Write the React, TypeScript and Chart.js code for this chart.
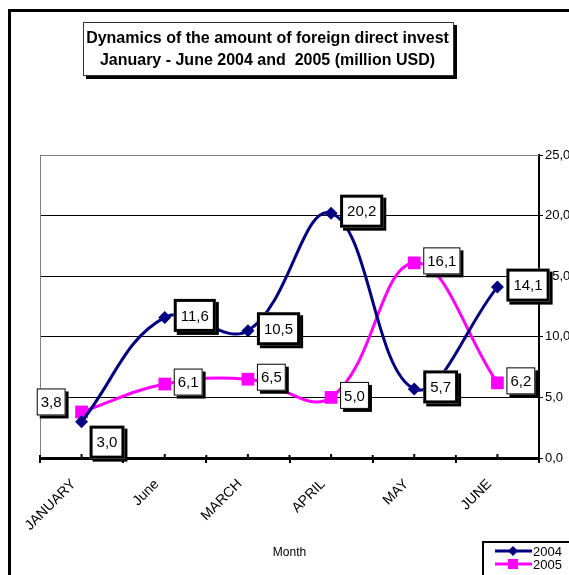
import { useEffect, useRef } from 'react';
import { Chart, registerables } from 'chart.js';

Chart.register(...registerables);

const categories = ['JANUARY', 'June', 'MARCH', 'APRIL', 'MAY', 'JUNE'];
const series2004 = [3.0, 11.6, 10.5, 20.2, 5.7, 14.1];
const series2005 = [3.8, 6.1, 6.5, 5.0, 16.1, 6.2];
const seriesNames = ['2004', '2005'];
const yMin = 0;
const yMax = 25;
const yStep = 5;
const titleLines = ['Dynamics of the amount of foreign direct invest', 'January - June 2004 and  2005 (million USD)'];
const xAxisTitle = 'Month';

const labelPlacement2004 = ['belowRight', 'right', 'right', 'right', 'right', 'right'];
const labelPlacement2005 = ['aboveLeft', 'right', 'right', 'right', 'right', 'right'];

const FONT = '"Liberation Sans", Arial, sans-serif';
const NAVY = '#000080';
const MAGENTA = '#FF00FF';

const fmt = (v: number) => v.toFixed(1).replace('.', ',');

function drawLabel(ctx: CanvasRenderingContext2D, text: string, px: number, py: number, place: string, thick: boolean) {
  ctx.save();
  ctx.font = `15px ${FONT}`;
  const tw = ctx.measureText(text).width;
  const padX = thick ? 7 : 4;
  const h = thick ? 33 : 27;
  const bw = thick ? 3 : 1;
  const w = tw + padX * 2;
  let left = px + 9;
  let top = py - 2 - h / 2;
  if (place === 'belowRight') {
    left = px + 8;
    top = py + 4;
  } else if (place === 'aboveLeft') {
    left = px - 16 - w;
    top = py - 10 - h / 2;
  }
  ctx.fillStyle = '#000';
  ctx.fillRect(left + 3, top + 3, w, h);
  ctx.fillStyle = '#fff';
  ctx.fillRect(left, top, w, h);
  ctx.lineWidth = bw;
  ctx.strokeStyle = '#000';
  ctx.strokeRect(left + bw / 2, top + bw / 2, w - bw, h - bw);
  ctx.fillStyle = '#000';
  ctx.textAlign = 'center';
  ctx.textBaseline = 'middle';
  ctx.fillText(text, left + w / 2, top + h / 2 + 1);
  ctx.restore();
}

const decorPlugin = {
  id: 'decor',
  beforeDraw(chart: any) {
    const ctx = chart.ctx as CanvasRenderingContext2D;
    ctx.save();
    ctx.fillStyle = '#fff';
    ctx.fillRect(0, 0, chart.width, chart.height);
    ctx.restore();
  },
  beforeDatasetsDraw(chart: any) {
    const ctx = chart.ctx as CanvasRenderingContext2D;
    const a = chart.chartArea;
    ctx.save();
    ctx.strokeStyle = '#808080';
    ctx.lineWidth = 1;
    ctx.beginPath();
    ctx.moveTo(a.left + 0.5, a.bottom);
    ctx.lineTo(a.left + 0.5, a.top + 0.5);
    ctx.lineTo(a.right, a.top + 0.5);
    ctx.stroke();
    // minor ticks at category centres
    const xs = chart.scales.x;
    ctx.strokeStyle = '#000';
    ctx.lineWidth = 2;
    categories.forEach((_, i) => {
      const x = xs.getPixelForValue(i);
      ctx.beginPath();
      ctx.moveTo(x, a.bottom - 4);
      ctx.lineTo(x, a.bottom);
      ctx.stroke();
    });
    // boundary ticks crossing the axis
    xs.ticks.forEach((_: any, i: number) => {
      const x = xs.getPixelForValue(i) - (xs.getPixelForValue(1) - xs.getPixelForValue(0)) / 2;
      ctx.beginPath();
      ctx.moveTo(x, a.bottom - 3);
      ctx.lineTo(x, a.bottom);
      ctx.stroke();
    });
    ctx.restore();
  },
  afterDatasetsDraw(chart: any) {
    const ctx = chart.ctx as CanvasRenderingContext2D;
    const placements = [labelPlacement2004, labelPlacement2005];
    chart.data.datasets.forEach((ds: any, di: number) => {
      const meta = chart.getDatasetMeta(di);
      meta.data.forEach((el: any, i: number) => {
        drawLabel(ctx, fmt(ds.data[i]), el.x, el.y, placements[di][i], di === 0);
      });
    });
  },
  afterDraw(chart: any) {
    const ctx = chart.ctx as CanvasRenderingContext2D;
    ctx.save();
    // outer frame
    ctx.strokeStyle = '#000';
    ctx.lineWidth = 3;
    ctx.strokeRect(9.5, 10.5, 800, 800);
    // title box
    const tx = 83, ty = 22, tw = 371, th = 54;
    ctx.fillStyle = '#000';
    ctx.fillRect(tx + 3, ty + 3, tw, th);
    ctx.fillStyle = '#fff';
    ctx.fillRect(tx, ty, tw, th);
    ctx.lineWidth = 1;
    ctx.strokeStyle = '#333';
    ctx.strokeRect(tx + 0.5, ty + 0.5, tw - 1, th - 1);
    ctx.fillStyle = '#000';
    ctx.font = `bold 16px ${FONT}`;
    ctx.textAlign = 'center';
    ctx.textBaseline = 'middle';
    ctx.fillText(titleLines[0], tx + tw / 2 - 1, 39);
    ctx.fillText(titleLines[1], tx + tw / 2 - 1, 61);
    // legend
    ctx.lineWidth = 2;
    ctx.strokeStyle = '#000';
    ctx.strokeRect(483, 542, 200, 100);
    const rows = [
      { y: 551, color: NAVY, style: 'diamond', name: seriesNames[0] },
      { y: 564, color: MAGENTA, style: 'square', name: seriesNames[1] },
    ];
    rows.forEach((r) => {
      ctx.strokeStyle = r.color;
      ctx.fillStyle = r.color;
      ctx.lineWidth = 3;
      ctx.beginPath();
      ctx.moveTo(495, r.y);
      ctx.lineTo(532, r.y);
      ctx.stroke();
      ctx.beginPath();
      if (r.style === 'diamond') {
        ctx.moveTo(513, r.y - 5);
        ctx.lineTo(518, r.y);
        ctx.lineTo(513, r.y + 5);
        ctx.lineTo(508, r.y);
        ctx.closePath();
        ctx.fill();
      } else {
        ctx.fillRect(508, r.y - 5, 10, 10);
      }
      ctx.fillStyle = '#000';
      ctx.font = `13px ${FONT}`;
      ctx.textAlign = 'left';
      ctx.fillText(r.name, 533, r.y + 1);
    });
    ctx.restore();
  },
};

export default function App() {
  const ref = useRef<HTMLCanvasElement>(null);
  useEffect(() => {
    if (!ref.current) return;
    Chart.defaults.font.family = FONT;
    const chart = new Chart(ref.current, {
      type: 'line',
      data: {
        labels: categories,
        datasets: [
          {
            label: seriesNames[0],
            data: series2004,
            borderColor: NAVY,
            backgroundColor: NAVY,
            borderWidth: 3,
            pointStyle: 'rectRot',
            pointRadius: 6.5,
            pointBorderWidth: 0,
            tension: 0.4,
          },
          {
            label: seriesNames[1],
            data: series2005,
            borderColor: MAGENTA,
            backgroundColor: MAGENTA,
            borderWidth: 3,
            pointStyle: 'rect',
            pointRadius: 9,
            pointBorderWidth: 0,
            tension: 0.4,
          },
        ],
      },
      options: {
        responsive: false,
        animation: false,
        layout: { padding: { left: 40, top: 155, right: 0, bottom: 0 } },
        plugins: { legend: { display: false }, tooltip: { enabled: false }, title: { display: false } },
        scales: {
          x: {
            type: 'category',
            offset: true,
            grid: { offset: true, drawOnChartArea: false, drawTicks: true, tickLength: 5, color: '#000', lineWidth: 2 },
            border: { display: true, color: '#000', width: 3 },
            ticks: { minRotation: 45, maxRotation: 45, autoSkip: false, color: '#000', font: { size: 14 }, padding: 13, labelOffset: -8 },
            title: { display: true, text: xAxisTitle, color: '#000', font: { size: 12 }, padding: { top: 0, bottom: 15 } },
            afterFit: (s: any) => { s.height = 117; },
          },
          y: {
            position: 'right',
            min: yMin,
            max: yMax,
            ticks: { stepSize: yStep, callback: (v: any) => fmt(Number(v)), color: '#000', font: { size: 13 }, padding: 2 },
            grid: { color: '#000', lineWidth: 1, tickLength: 4, drawTicks: true },
            border: { display: true, color: '#000', width: 2 },
            afterFit: (s: any) => { s.width = 30; },
          },
        },
      },
      plugins: [decorPlugin],
    } as any);
    return () => chart.destroy();
  }, []);
  return (
    <div style={{ position: 'absolute', left: 0, top: 0, width: 569, height: 575, overflow: 'hidden' }}>
      <canvas ref={ref} width={569} height={575} style={{ display: 'block' }} />
    </div>
  );
}
